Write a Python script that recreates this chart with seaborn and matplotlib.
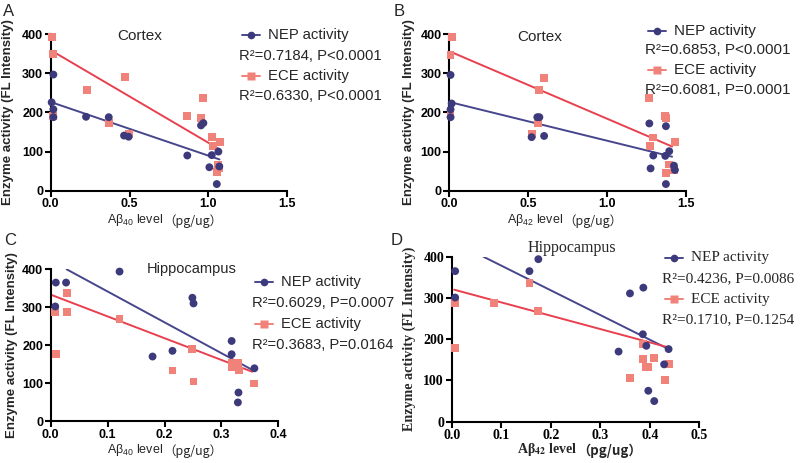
import seaborn as sns
import pandas as pd
import matplotlib.pyplot as plt
from matplotlib.lines import Line2D

# ---- data ----
# A: cortex, Abeta40
a_nep_x = [0.017, 0.006, 0.017, 0.017, 0.224, 0.368, 0.465, 0.494, 0.866, 0.953, 0.968, 1.021, 1.006, 1.063, 1.053, 1.069]
a_nep_y = [297, 226, 208, 188, 189, 188, 141, 138, 90, 167, 173, 91, 60, 100, 17, 62]
a_ece_x = [0.006, 0.017, 0.017, 0.228, 0.469, 0.368, 0.494, 0.866, 0.955, 0.968, 1.021, 1.031, 1.074, 1.063, 1.069, 1.052]
a_ece_y = [394, 349, 192, 258, 291, 173, 144, 192, 187, 237, 137, 115, 125, 66, 58, 48]
a_nep_fit_x = [0.006, 1.07]
a_nep_fit_y = [226, 80]
a_ece_fit_x = [0.006, 1.07]
a_ece_fit_y = [358, 106]

# B: cortex, Abeta42
b_nep_x = [0.008, 0.015, 0.008, 0.008, 0.521, 0.557, 0.570, 0.600, 1.266, 1.274, 1.291, 1.371, 1.367, 1.392, 1.371, 1.422, 1.428]
b_nep_y = [296, 223, 208, 188, 137, 188, 188, 140, 172, 57, 90, 165, 89, 101, 17, 64, 53]
b_ece_x = [0.015, 0.008, 0.008, 0.521, 0.563, 0.567, 0.600, 1.266, 1.291, 1.270, 1.367, 1.371, 1.426, 1.392, 1.422, 1.371]
b_ece_y = [394, 347, 194, 144, 172, 258, 289, 236, 136, 115, 191, 185, 125, 67, 53, 46]
b_nep_fit_x = [0.01, 1.41]
b_nep_fit_y = [226, 87]
b_ece_fit_x = [0.01, 1.41]
b_ece_fit_y = [355, 113]

# C: hippocampus, Abeta40
c_nep_x = [0.009, 0.027, 0.008, 0.121, 0.179, 0.214, 0.249, 0.251, 0.318, 0.318, 0.330, 0.329, 0.358]
c_nep_y = [365, 365, 302, 394, 170, 185, 325, 310, 211, 176, 75, 49, 139]
c_ece_x = [0.008, 0.028, 0.028, 0.009, 0.121, 0.214, 0.249, 0.251, 0.318, 0.319, 0.329, 0.331, 0.358]
c_ece_y = [288, 287, 337, 177, 270, 133, 189, 104, 142, 152, 154, 133, 99]
c_nep_fit_x = [0.028, 0.354]
c_nep_fit_y = [400, 135]
c_ece_fit_x = [0.002, 0.354]
c_ece_fit_y = [332, 130]

# D: hippocampus, Abeta42
d_nep_x = [0.007, 0.007, 0.157, 0.175, 0.337, 0.360, 0.387, 0.386, 0.393, 0.397, 0.409, 0.429, 0.438]
d_nep_y = [365, 301, 365, 394, 170, 311, 325, 212, 184, 75, 50, 139, 176]
d_ece_x = [0.007, 0.007, 0.086, 0.157, 0.175, 0.360, 0.386, 0.387, 0.393, 0.397, 0.409, 0.431, 0.438]
d_ece_y = [288, 178, 288, 337, 269, 105, 151, 188, 132, 133, 155, 101, 140]
d_nep_fit_x = [0.064, 0.438]
d_nep_fit_y = [400, 176]
d_ece_fit_x = [0.005, 0.438]
d_ece_fit_y = [320, 180]

stats = {
    'A': ['R\u00b2=0.7184, P<0.0001', 'R\u00b2=0.6330, P<0.0001'],
    'B': ['R\u00b2=0.6853, P<0.0001', 'R\u00b2=0.6081, P=0.0001'],
    'C': ['R\u00b2=0.6029, P=0.0007', 'R\u00b2=0.3683, P=0.0164'],
    'D': ['R\u00b2=0.4236, P=0.0086', 'R\u00b2=0.1710, P=0.1254'],
}

NEP_C = '#3d3a7c'
NEP_LINE = '#47468c'
ECE_C = '#f08279'
ECE_LINE = '#e8404f'

sns.set_style('ticks')
SANS = ['Liberation Sans', 'Noto Sans CJK SC']
SERIF = ['Liberation Serif', 'Noto Sans CJK SC']
plt.rcParams['font.family'] = SANS
plt.rcParams['mathtext.fontset'] = 'custom'
plt.rcParams['mathtext.rm'] = 'Liberation Sans'
plt.rcParams['mathtext.bf'] = 'Liberation Sans:bold'

W, H = 800, 463
fig = plt.figure(figsize=(8, 4.63), dpi=100)


def fx(x):
    return x / W


def fy(y):
    return 1 - y / H


def panel(letter, box, xmax, xstep, nep, ece, nep_fit, ece_fit, title, title_xy, title_fs,
          sub, xlab_px, ylab_x, leg_xy, leg_fs, serif=False):
    fam = SERIF if serif else SANS
    x0, x1, yt, yb = box
    ax = fig.add_axes([fx(x0), fy(yb), (x1 - x0) / W, (yb - yt) / H])
    sns.lineplot(x=nep_fit[0], y=nep_fit[1], ax=ax, color=NEP_LINE, lw=1.4)
    sns.lineplot(x=ece_fit[0], y=ece_fit[1], ax=ax, color=ECE_LINE, lw=1.4)
    sns.scatterplot(x=ece[0], y=ece[1], ax=ax, marker='s', s=32, color=ECE_C,
                    edgecolor='none', clip_on=False, zorder=3)
    sns.scatterplot(x=nep[0], y=nep[1], ax=ax, marker='o', s=32, color=NEP_C,
                    edgecolor='none', clip_on=False, zorder=4)
    ax.set_xlim(0, xmax)
    ax.set_ylim(0, 400)
    n = int(round(xmax / xstep)) + 1
    ax.set_xticks([i * xstep for i in range(n)])
    ax.set_xticklabels([f'{i * xstep:.1f}' for i in range(n)])
    ax.set_yticks([0, 100, 200, 300, 400])
    sns.despine(ax=ax)
    for s in ['left', 'bottom']:
        ax.spines[s].set_linewidth(1.5)
        ax.spines[s].set_color('black')
    ax.tick_params(direction='out', length=4, width=1.5, pad=1.5,
                   labelsize=10 if serif else 9, colors='black')
    for t in ax.get_xticklabels() + ax.get_yticklabels():
        t.set_fontweight('bold')
        t.set_family(fam)
    ax.set_ylabel('Enzyme activity (FL Intensity)', fontsize=10.2 if serif else 9.5,
                  fontweight='bold', family=fam)
    ax.yaxis.set_label_coords(ylab_x, 0.5)
    ax.yaxis.label.set_va('center')
    # x label: main part + full-width bracket part (CJK font)
    if serif:
        main = 'A\u03b2$_{\\mathbf{' + sub + '}}$ level'
        t1 = fig.text(fx(xlab_px[0]), fy(xlab_px[1]), main, fontsize=10, fontweight='bold',
                      family=fam, math_fontfamily='stix', ha='left', va='bottom')
    else:
        main = 'A\u03b2$_{\\mathrm{' + sub + '}}$ level'
        t1 = fig.text(fx(xlab_px[0]), fy(xlab_px[1]), main, fontsize=9,
                      family=fam, ha='left', va='bottom')
    ax.annotate('\uff08pg/ug\uff09', xy=(1, 0), xycoords=t1, ha='left', va='bottom',
                fontsize=9 if not serif else 9.5, family=['Noto Sans CJK SC'],
                fontweight='bold' if serif else 'normal')
    ax.text(title_xy[0], title_xy[1], title, transform=ax.transAxes, ha='center',
            va='center', fontsize=title_fs, family=fam)
    # legend
    lx, ly, dy = leg_xy
    for i, (name, col, lcol, mk) in enumerate([('NEP activity', NEP_C, NEP_LINE, 'o'),
                                               ('ECE activity', ECE_C, ECE_C, 's')]):
        yy = ly + i * 2 * dy
        fig.add_artist(Line2D([fx(lx + 3), fx(lx + 21)], [fy(yy), fy(yy)], color=lcol, lw=1.4))
        fig.add_artist(Line2D([fx(lx + 12)], [fy(yy)], marker=mk, ms=5.5, color=col, mec='none'))
        fig.text(fx(lx + 29), fy(yy), name, fontsize=leg_fs, va='center', ha='left', family=fam)
        fig.text(fx(lx), fy(yy + dy), stats[letter][i], fontsize=leg_fs, va='center', ha='left',
                 family=fam)
    return ax


panel('A', (50.7, 287.3, 34.3, 190.7), 1.5, 0.5,
      (a_nep_x, a_nep_y), (a_ece_x, a_ece_y), (a_nep_fit_x, a_nep_fit_y), (a_ece_fit_x, a_ece_fit_y),
      'Cortex', (0.377, 0.99), 11, '40', (107, 228), -0.18, (239.3, 35, 20.5), 10.7)
panel('B', (449.3, 686.3, 34.3, 190.7), 1.5, 0.5,
      (b_nep_x, b_nep_y), (b_ece_x, b_ece_y), (b_nep_fit_x, b_nep_fit_y), (b_ece_fit_x, b_ece_fit_y),
      'Cortex', (0.383, 0.985), 11, '42', (506.7, 228), -0.169, (645, 31, 19.5), 11)
panel('C', (50.7, 278.3, 269.3, 421), 0.4, 0.1,
      (c_nep_x, c_nep_y), (c_ece_x, c_ece_y), (c_nep_fit_x, c_nep_fit_y), (c_ece_fit_x, c_ece_fit_y),
      'Hippocampus', (0.62, 1.0), 10.5, '40', (106.7, 457.5), -0.171, (251.7, 282.3, 21), 10.6)
panel('D', (451.7, 699.3, 256.7, 421.7), 0.5, 0.1,
      (d_nep_x, d_nep_y), (d_ece_x, d_ece_y), (d_nep_fit_x, d_nep_fit_y), (d_ece_fit_x, d_ece_fit_y),
      'Hippocampus', (0.485, 1.05), 11.5, '42', (516.7, 458), -0.171, (661.7, 258, 20.5), 11,
      serif=True)

for letter, (px, py) in zip('ABCD', [(3, 12), (394, 12), (4, 240), (391, 240)]):
    fig.text(fx(px), fy(py), letter, fontsize=12, va='center', ha='left')

fig.savefig('out.png', dpi=100)
